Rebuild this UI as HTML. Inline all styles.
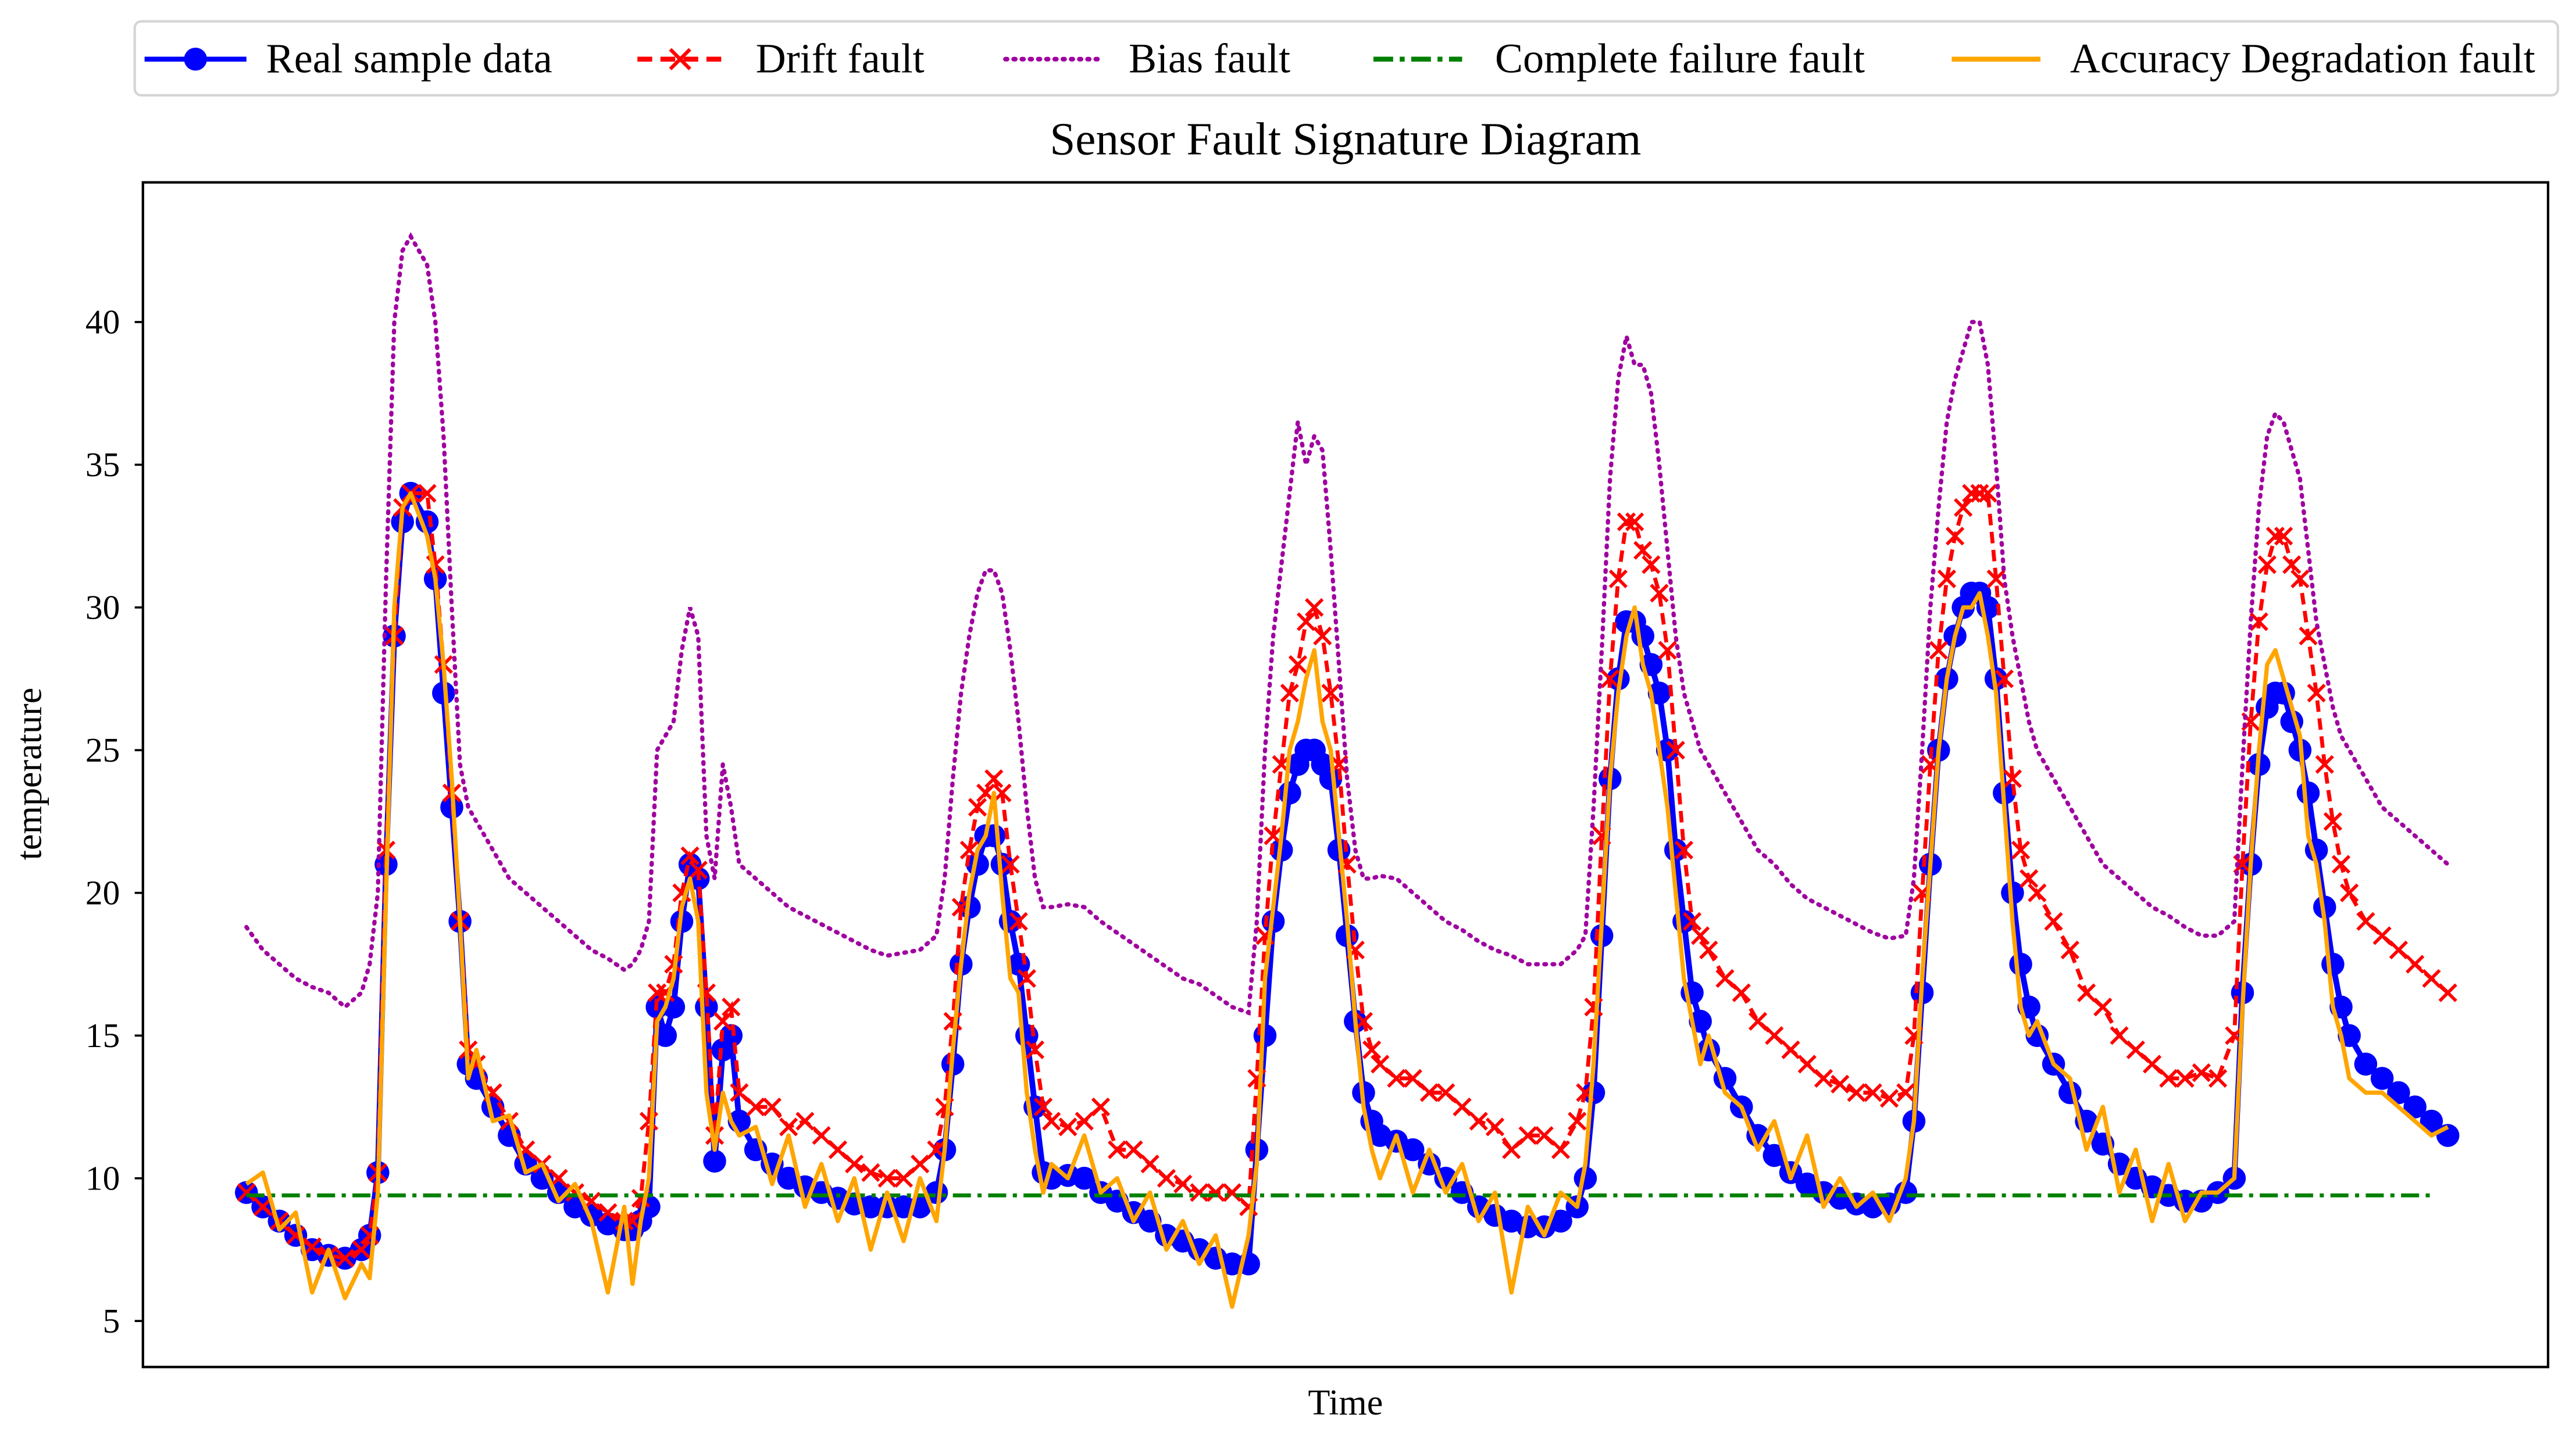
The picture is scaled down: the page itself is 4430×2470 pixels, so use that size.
<!DOCTYPE html>
<html><head><meta charset="utf-8"><style>
html,body{margin:0;padding:0;background:#fff;}
svg{display:block;}
text{font-family:"Liberation Serif",serif;fill:#000;}
</style></head><body>
<svg id="chart" xmlns="http://www.w3.org/2000/svg" width="4430" height="2470" viewBox="0 0 1568 874" preserveAspectRatio="none">
<rect x="0" y="0" width="1568" height="874" fill="#fff"/>
<g>
<rect x="82" y="13" width="1475" height="45" rx="4" fill="#fff" stroke="#d5d5d5" stroke-width="1.5"/>
<g><line x1="88" y1="36" x2="150" y2="36" stroke="#0000ff" stroke-width="3"/><circle cx="119" cy="36" r="7" fill="#0000ff"/><text x="162" y="44" font-size="25.5">Real sample data</text></g>
<g><line x1="388" y1="36" x2="440" y2="36" stroke="#ff0000" stroke-width="3" stroke-dasharray="9 5"/><path d="M408 30 L420 42 M420 30 L408 42" stroke="#ff0000" stroke-width="2.2"/><text x="460" y="44" font-size="25.5">Drift fault</text></g>
<g><line x1="612" y1="36" x2="668" y2="36" stroke="#a000a0" stroke-width="2.8" stroke-dasharray="1 4" stroke-linecap="round"/><text x="687" y="44" font-size="25.5">Bias fault</text></g>
<g><line x1="836" y1="36" x2="890" y2="36" stroke="#008000" stroke-width="3" stroke-dasharray="12 4 3 4"/><text x="910" y="44" font-size="25.5">Complete failure fault</text></g>
<g><line x1="1188" y1="36" x2="1242" y2="36" stroke="#ffa500" stroke-width="3"/><text x="1260" y="44" font-size="25.5">Accuracy Degradation fault</text></g>
</g>
<text x="819" y="94" font-size="28" text-anchor="middle">Sensor Fault Signature Diagram</text>
<text x="819" y="861" font-size="22" text-anchor="middle">Time</text>
<text x="25" y="471" font-size="22" text-anchor="middle" transform="rotate(-90 25 471)">temperature</text>
<g id="yaxis"></g>
<g id="plot"></g>
<rect x="87" y="111" width="1464" height="721" fill="none" stroke="#000" stroke-width="1.5"/>
</svg>
<script>
const time=[0,1,2,3,4,5,6,7,7.5,8,8.5,9,9.5,10,11,11.5,12,12.5,13,13.5,14,15,16,17,18,19,20,21,22,23,23.5,24,24.5,25,25.5,26,26.5,27,27.5,28,28.5,29,29.5,30,31,32,33,34,35,36,37,38,39,40,41,42,42.5,43,43.5,44,44.5,45,45.5,46,46.5,47,47.5,48,48.5,49,50,51,52,53,54,55,56,57,58,59,60,61,61.5,62,62.5,63,63.5,64,64.5,65,65.5,66,66.5,67,67.5,68,68.5,69,70,71,72,73,74,75,76,77,78,79,80,81,81.5,82,82.5,83,83.5,84,84.5,85,85.5,86,86.5,87,87.5,88,88.5,89,90,91,92,93,94,95,96,97,98,99,100,101,101.5,102,102.5,103,103.5,104,104.5,105,105.5,106,106.5,107,107.5,108,108.5,109,110,111,112,113,114,115,116,117,118,119,120,121,121.5,122,122.5,123,123.5,124,124.5,125,125.5,126,126.5,127,127.5,128,129,130,131,132,133,134];
const realData=[9.5,9,8.5,8,7.5,7.3,7.2,7.5, 8,10.2,21,29,33,34, 33,31,27,23,19,14,13.5, 12.5,11.5,10.5,10,9.5,9,8.7,8.4,8.2, 8.2,8.5,9,16,15,16,19,21,20.5,16,10.6,14.5,15, 12, 11,10.5,10,9.7,9.5,9.3,9.1,9,9,9,9,9.5, 11,14,17.5,19.5,21,22,22,21,19,17.5,15,12.5,10.2, 10, 10.1,10,9.5,9.2,8.8,8.5,8,7.8,7.5,7.2,7,7, 11,15,19,21.5,23.5,24.5,25,25,24.5,24,21.5,18.5,15.5,13,12, 11.5, 11.3,11,10.5,10,9.5,9,8.7,8.5,8.3,8.3,8.5,9, 10,13,18.5,24,27.5,29.5,29.5,29,28,27,25,21.5,19,16.5,15.5, 14.5, 13.5,12.5,11.5,10.8,10.2,9.8,9.5,9.3,9.1,9,9.1,9.5, 12,16.5,21,25,27.5,29,30,30.5,30.5,30,27.5,23.5,20,17.5,16, 15, 14,13,12,11.2,10.5,10,9.7,9.4,9.2,9.2,9.5,10, 16.5,21,24.5,26.5,27,27,26,25,23.5,21.5,19.5,17.5,16, 15, 14,13.5,13,12.5,12,11.5];
const driftData=[9.5,9,8.5,8,7.6,7.3,7.2,7.5, 8,10.2,21.5,29,33.5,34, 34,31.5,28,23.5,19,14.5,14, 13,12,11,10.5,10,9.5,9.2,8.8,8.5, 8.5,9.3,12,16.5,16.5,17.5,20,21.3,20.8,16.5,11.5,15.5,16, 13, 12.5,12.5,11.8,12,11.5,11,10.5,10.2,10,10,10.5,11, 12.5,15.5,19.5,21.5,23,23.5,24,23.5,21,19,17,14.5,12.5, 12, 11.8,12,12.5,11,11,10.5,10,9.8,9.5,9.5,9.5,9, 13.5,18.5,22,24.5,27,28,29.5,30,29,27,24.5,21,18,15.5,14.5, 14, 13.5,13.5,13,13,12.5,12,11.8,11,11.5,11.5,11,12, 13,16,22,27.5,31,33,33,32,31.5,30.5,28.5,25,21.5,19,18.5, 18, 17,16.5,15.5,15,14.5,14,13.5,13.3,13,13,12.8,13, 15,20,24.5,28.5,31,32.5,33.5,34,34,34,31,27.5,24,21.5,20.5, 20, 19,18,16.5,16,15,14.5,14,13.5,13.5,13.7,13.5,15, 21,26,29.5,31.5,32.5,32.5,31.5,31,29,27,24.5,22.5,21, 20, 19,18.5,18,17.5,17,16.5];
const biasData=[18.8,18,17.5,17,16.7,16.5,16,16.5, 17.5,20,31,40,42.5,43, 42,40,36,30,24.5,23,22.5, 21.5,20.5,20,19.5,19,18.5,18,17.7,17.3, 17.5,18,19,25,25.5,26,28.5,30,29,22,20.5,24.5,23, 21, 20.5,20,19.5,19.2,18.9,18.6,18.3,18,17.8,17.9,18,18.5, 20.5,24,27,29,30.5,31.3,31.3,30.5,28.5,26,23,20.5,19.5, 19.5, 19.6,19.5,19,18.6,18.2,17.8,17.4,17,16.8,16.4,16,15.8, 19,25,29,31.5,34,36.5,35,36,35.5,32,28,24,21.5,20.5,20.5, 20.6, 20.5,20,19.5,19,18.7,18.3,18,17.8,17.5,17.5,17.5,18, 18.5,23,28.5,34.5,38,39.5,38.5,38.5,37.5,35,32,29,27,26,25, 24.5, 23.5,22.5,21.5,21,20.3,19.8,19.5,19.2,18.9,18.6,18.4,18.5, 20.5,25,30,33.5,36.5,38,39,40,40,38.5,35,31,29,27.5,26, 25, 24,23,22,21,20.5,20,19.5,19.2,18.8,18.5,18.5,19, 24.5,29.5,33.5,36,36.8,36.5,35.5,34.5,32,29.5,28,26.5,25.5, 25, 24,23,22.5,22,21.5,21];
const accData=[9.8,10.2,8.2,8.8,6,7.5,5.8,7, 6.5,9.5,20,30,33.5,34, 32.5,31,28,24,19,13.5,14.5, 12,12.2,10.2,10.5,9.2,9.8,8.5,6,9, 6.3,8.5,10,15.5,16,17,19.5,20.5,19,13,11,13,12, 11.5, 11.8,9.8,11.5,9,10.5,8.5,10,7.5,9.5,7.8,10,8.5, 11,14.5,17.5,20,21.5,22,23.5,20,17,16.5,13,11,9.5, 10.5, 10,11.5,9.5,10,8.5,9.5,7.5,8.5,7,8,5.5,8, 10.5,17,19.5,22,25,26,27.5,28.5,26,25,22,19,15.5,12.5,11, 10, 11.5,9.5,11,9.5,10.5,8.5,9.5,6,9,8,9.5,9, 10.5,14,19,24,27,29,30,28,27,25,23,20,17,15.5,14, 15, 13,12.5,11,12,10,11.5,9,10,9,9.5,8.5,10, 12,17,21,25,27.5,29,30,30,30.5,29,27,23,19,16,15, 15.5, 14,13.5,11,12.5,9.5,11,8.5,10.5,8.5,9.5,9.5,10, 16,21,25,28,28.5,27.5,26.5,25.5,22,21,19,16,15, 13.5, 13,13,12.5,12,11.5,11.8];
const failureLevel=[9.4];
const yTicks=[5,10,15,20,25,30,35,40];

const NS="http://www.w3.org/2000/svg";
const X0=150,X1=1490,T0=0,T1=134;
function xs(t){return X0+(t-T0)*(X1-X0)/(T1-T0);}
function ys(v){return 804-(v-5)*(804-196)/35;}
function mk(tag,attrs,parent){const e=document.createElementNS(NS,tag);for(const k in attrs)e.setAttribute(k,attrs[k]);parent.appendChild(e);return e;}
const yaxis=document.getElementById('yaxis');
yTicks.forEach(v=>{
  const l=mk('line',{x1:82,x2:87,y1:ys(v),y2:ys(v),stroke:'#000','stroke-width':1.3},yaxis);
  
  
  const t=mk('text',{x:73,y:ys(v)+7,'font-size':21,'text-anchor':'end'},yaxis);
  t.textContent=String(v);
  
  
});
const plot=document.getElementById('plot');
const n=Math.min(time.length,realData.length,driftData.length,biasData.length,accData.length);
function pts(arr){let s=[];for(let i=0;i<n;i++)s.push(xs(time[i]).toFixed(2)+','+ys(arr[i]).toFixed(2));return s.join(' ');}
const real=mk('polyline',{points:pts(realData),fill:'none',stroke:'#0000ff','stroke-width':3.5},plot);


for(let i=0;i<n;i++){
  const c=mk('circle',{cx:xs(time[i]),cy:ys(realData[i]),r:7,fill:'#0000ff'},plot);
  
  
}
const drift=mk('polyline',{points:pts(driftData),fill:'none',stroke:'#ff0000','stroke-width':2.4,'stroke-dasharray':'7 4'},plot);


for(let i=0;i<n;i++){
  const x=xs(time[i]),y=ys(driftData[i]);
  const p=mk('path',{d:`M${x-5} ${y-5} L${x+5} ${y+5} M${x+5} ${y-5} L${x-5} ${y+5}`,stroke:'#ff0000','stroke-width':2,fill:'none'},plot);
  
  
}
const bias=mk('polyline',{points:pts(biasData),fill:'none',stroke:'#a000a0','stroke-width':2.6,'stroke-dasharray':'1 4','stroke-linecap':'round'},plot);


const fail=mk('line',{x1:xs(time[0]),x2:xs(time[n-1])-10,y1:ys(failureLevel[0]),y2:ys(failureLevel[0]),stroke:'#008000','stroke-width':2.4,'stroke-dasharray':'11 4 2.5 4'},plot);


const acc=mk('polyline',{points:pts(accData),fill:'none',stroke:'#ffa500','stroke-width':2.6,'stroke-linejoin':'round'},plot);


</script>
</body></html>
